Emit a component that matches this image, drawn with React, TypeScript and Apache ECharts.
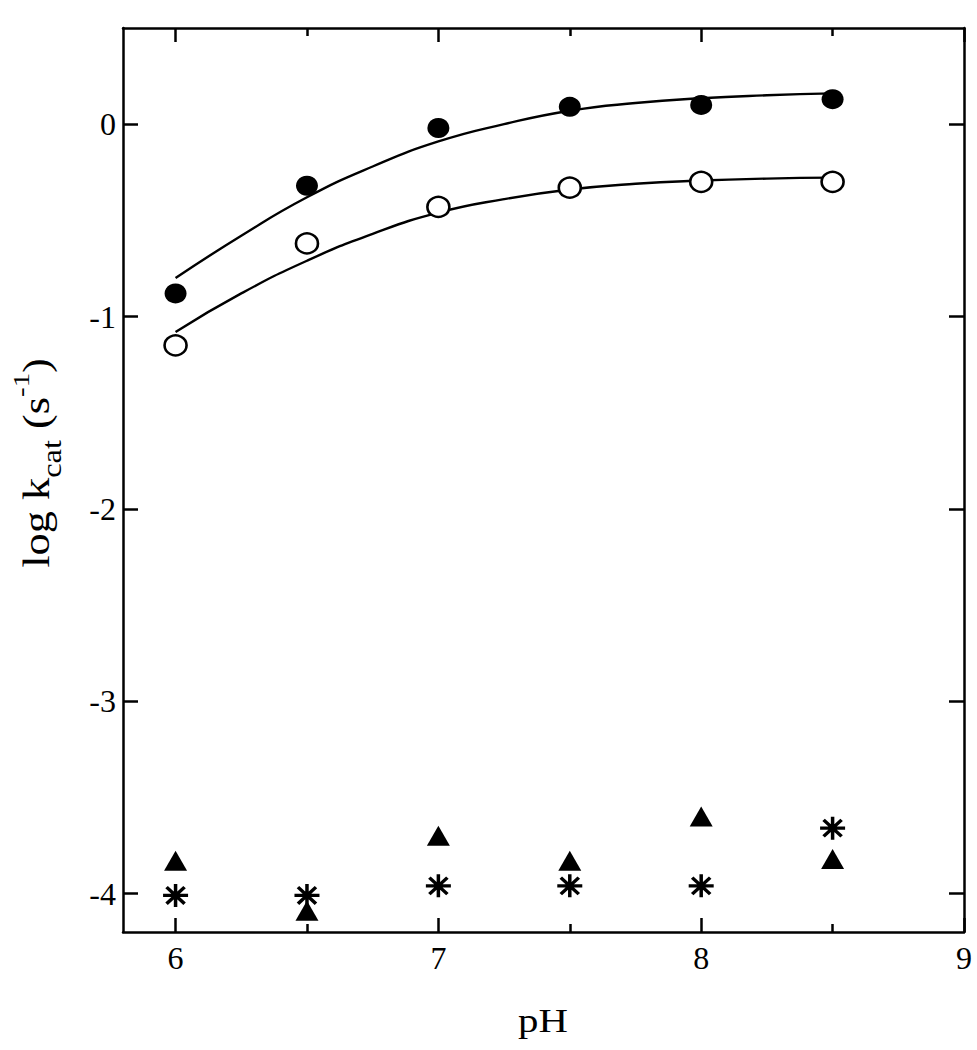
import React, { useEffect, useRef } from "react";
import * as echarts from "echarts";

const xs = [6, 6.5, 7, 7.5, 8, 8.5];
const filledCircles = [-0.88, -0.32, -0.02, 0.09, 0.1, 0.13];
const openCircles = [-1.15, -0.62, -0.43, -0.33, -0.3, -0.3];
const triangles = [-3.83, -4.09, -3.7, -3.83, -3.6, -3.82];
const asterisks = [-4.01, -4.01, -3.96, -3.96, -3.96, -3.66];

const curveX = [6, 6.25, 6.5, 6.75, 7, 7.25, 7.5, 7.75, 8, 8.25, 8.5];
const filledFit = [-0.8, -0.58, -0.38, -0.22, -0.09, 0.0, 0.07, 0.11, 0.135, 0.15, 0.16];
const openFit = [-1.08, -0.88, -0.71, -0.57, -0.46, -0.39, -0.34, -0.31, -0.293, -0.283, -0.278];

const xMajor = [6, 7, 8, 9];
const xMinor = [6.5, 7.5, 8.5];
const yMajor = [-4, -3, -2, -1, 0];

const FONT = "'Liberation Serif', 'Times New Roman', Times, serif";

const ASTERISK =
  "path://M0,43L100,43L100,57L0,57Z" +
  "M43,0L57,0L57,100L43,100Z" +
  "M19,9L91,81L81,91L9,19Z" +
  "M81,9L91,19L19,91L9,81Z";

function pairs(x: number[], y: number[]) {
  return x.map((v, i) => [v, y[i]]);
}

export default function App() {
  const ref = useRef<HTMLDivElement>(null);
  useEffect(() => {
    if (!ref.current) return;
    const chart = echarts.init(ref.current, undefined, { renderer: "svg" });
    const lineStyle = { color: "#000", width: 2.5 };
    const baseX = {
      type: "value",
      min: 5.8,
      max: 9,
      splitLine: { show: false },
    };
    const baseY = {
      type: "value",
      min: -4.2,
      max: 0.5,
      splitLine: { show: false },
    };
    chart.setOption({
      animation: false,
      backgroundColor: "#fff",
      textStyle: { fontFamily: FONT },
      grid: { left: 123, right: 13, top: 28, bottom: 118 },
      xAxis: [
        {
          ...baseX,
          position: "bottom",
          axisLine: { show: true, onZero: false, lineStyle },
          axisTick: { show: true, inside: true, length: 14, customValues: xMajor, lineStyle },
          axisLabel: {
            show: true,
            customValues: xMajor,
            fontFamily: FONT,
            fontSize: 32,
            color: "#000",
            margin: 10,
          },
        },
        {
          ...baseX,
          position: "bottom",
          axisLine: { show: false, onZero: false },
          axisTick: { show: true, inside: true, length: 8, customValues: xMinor, lineStyle },
          axisLabel: { show: false },
        },
        {
          ...baseX,
          position: "top",
          axisLine: { show: true, onZero: false, lineStyle },
          axisTick: { show: true, inside: true, length: 14, customValues: xMajor, lineStyle },
          axisLabel: { show: false },
        },
        {
          ...baseX,
          position: "top",
          axisLine: { show: false, onZero: false },
          axisTick: { show: true, inside: true, length: 8, customValues: xMinor, lineStyle },
          axisLabel: { show: false },
        },
      ],
      yAxis: [
        {
          ...baseY,
          position: "left",
          axisLine: { show: true, onZero: false, lineStyle },
          axisTick: { show: true, inside: true, length: 15, customValues: yMajor, lineStyle },
          axisLabel: {
            show: true,
            customValues: yMajor,
            fontFamily: FONT,
            fontSize: 32,
            color: "#000",
            margin: 7,
          },
        },
        {
          ...baseY,
          position: "right",
          axisLine: { show: true, onZero: false, lineStyle },
          axisTick: { show: true, inside: true, length: 15, customValues: yMajor, lineStyle },
          axisLabel: { show: false },
        },
      ],
      graphic: [
        {
          type: "text",
          x: 543,
          y: 1021,
          scaleX: 1.2,
          style: {
            text: "pH",
            fontFamily: FONT,
            fontSize: 34,
            fill: "#000",
            align: "center",
            verticalAlign: "middle",
          },
        },
        {
          type: "text",
          x: 37,
          y: 463,
          rotation: Math.PI / 2,
          scaleX: 1.2,
          style: {
            text: "{m|log k}{sub|cat}{m| (s}{sup|-1}{m|)}",
            align: "center",
            verticalAlign: "middle",
            fill: "#000",
            fontFamily: FONT,
            rich: {
              m: { fontFamily: FONT, fontSize: 37, lineHeight: 56, fill: "#000" },
              sub: {
                fontFamily: FONT,
                fontSize: 27,
                lineHeight: 40,
                verticalAlign: "bottom",
                fill: "#000",
              },
              sup: {
                fontFamily: FONT,
                fontSize: 24,
                lineHeight: 14,
                verticalAlign: "top",
                fill: "#000",
              },
            },
          },
        },
      ],
      series: [
        {
          name: "fit filled",
          type: "line",
          data: pairs(curveX, filledFit),
          smooth: 0.5,
          showSymbol: false,
          lineStyle: { color: "#000", width: 2.4 },
          z: 1,
        },
        {
          name: "fit open",
          type: "line",
          data: pairs(curveX, openFit),
          smooth: 0.5,
          showSymbol: false,
          lineStyle: { color: "#000", width: 2.4 },
          z: 1,
        },
        {
          name: "filled circles",
          type: "scatter",
          data: pairs(xs, filledCircles),
          symbol: "circle",
          symbolSize: [22, 20],
          itemStyle: { color: "#000", opacity: 1 },
          z: 3,
        },
        {
          name: "open circles",
          type: "scatter",
          data: pairs(xs, openCircles),
          symbol: "circle",
          symbolSize: [22, 20],
          itemStyle: { color: "#fff", borderColor: "#000", borderWidth: 2.5, opacity: 1 },
          z: 3,
        },
        {
          name: "triangles",
          type: "scatter",
          data: pairs(xs, triangles),
          symbol: "triangle",
          symbolSize: [23, 20],
          itemStyle: { color: "#000", opacity: 1 },
          z: 3,
        },
        {
          name: "asterisks",
          type: "scatter",
          data: pairs(xs, asterisks),
          symbol: ASTERISK,
          symbolSize: [25, 23],
          itemStyle: { color: "#000", opacity: 1 },
          z: 3,
        },
      ],
    });
    return () => chart.dispose();
  }, []);
  return (
    <div
      ref={ref}
      style={{ position: "absolute", left: 0, top: 0, width: 977, height: 1050 }}
    />
  );
}
